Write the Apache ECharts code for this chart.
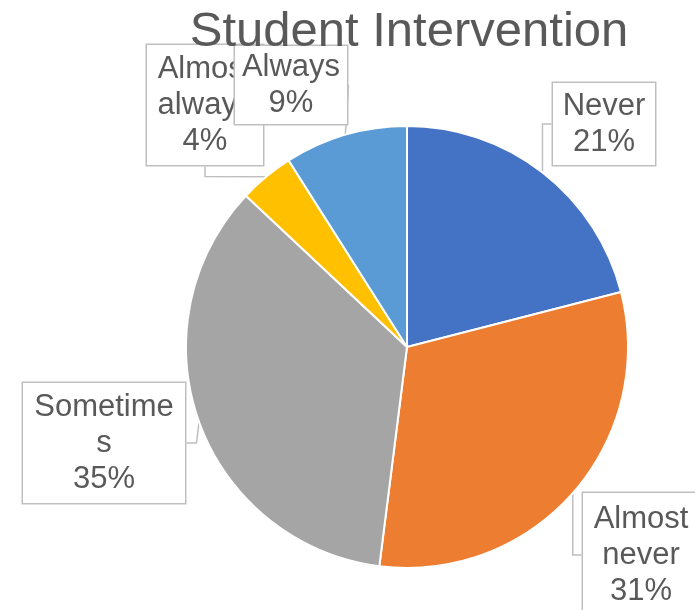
<!DOCTYPE html>
<html>
<head>
<meta charset="utf-8">
<script src="https://cdn.jsdelivr.net/npm/echarts@6/dist/echarts.min.js"></script>
<style>
html,body{margin:0;padding:0;background:#fff;}
#chart{width:695px;height:610px;}
</style>
</head>
<body>
<div id="chart"></div>
<script>
var categories = ['Never', 'Almost never', 'Sometimes', 'Almost always', 'Always'];
var labelLines = ['Never', 'Almost\nnever', 'Sometime\ns', 'Almost\nalways', 'Always'];
var values = [21, 31, 35, 4, 9];
var colors = ['#4472C4', '#ED7D31', '#A5A5A5', '#FFC000', '#5B9BD5'];

// label box centers, content widths and paddings (layout only)
var labelPos = [[604, 124], [641, 555], [104, 443], [205, 105], [291, 85]];
var labelWidth = [90, 96, 142, 96, 98];
var labelPad = [[5, 6], [8, 10], [6, 10], [6, 10], [3, 7]];

var data = categories.map(function (c, i) {
  return {
    name: c,
    value: values[i],
    itemStyle: { color: colors[i] },
    label: { padding: labelPad[i], width: labelWidth[i] }
  };
});

var chart = echarts.init(document.getElementById('chart'));
chart.setOption({
  animation: false,
  backgroundColor: '#ffffff',
  title: {
    text: 'Student Intervention',
    left: 404,
    textAlign: 'center',
    top: 3,
    textStyle: {
      fontFamily: 'Liberation Sans, Arial, sans-serif',
      fontSize: 49,
      fontWeight: 'normal',
      color: '#595959'
    }
  },
  series: [{
    type: 'pie',
    center: [407, 347],
    radius: 221,
    startAngle: 90,
    clockwise: true,
    data: data,
    itemStyle: { borderColor: '#ffffff', borderWidth: 2 },
    label: {
      show: true,
      position: 'outside',
      edgeDistance: 0,
      formatter: function (p) {
        return labelLines[p.dataIndex] + '\n' + p.percent.toFixed(0) + '%';
      },
      fontFamily: 'Liberation Sans, Arial, sans-serif',
      fontSize: 31,
      lineHeight: 36,
      color: '#595959',
      align: 'center',
      overflow: 'none',
      backgroundColor: '#ffffff',
      borderColor: '#BFBFBF',
      borderWidth: 1.5
    },
    labelLine: {
      show: true,
      length: 10,
      length2: 10,
      lineStyle: { color: '#BFBFBF', width: 1.5 }
    },
    labelLayout: function (params) {
      var p = labelPos[params.dataIndex];
      return { x: p[0], y: p[1], align: 'center', verticalAlign: 'middle' };
    }
  }]
});
</script>
</body>
</html>
